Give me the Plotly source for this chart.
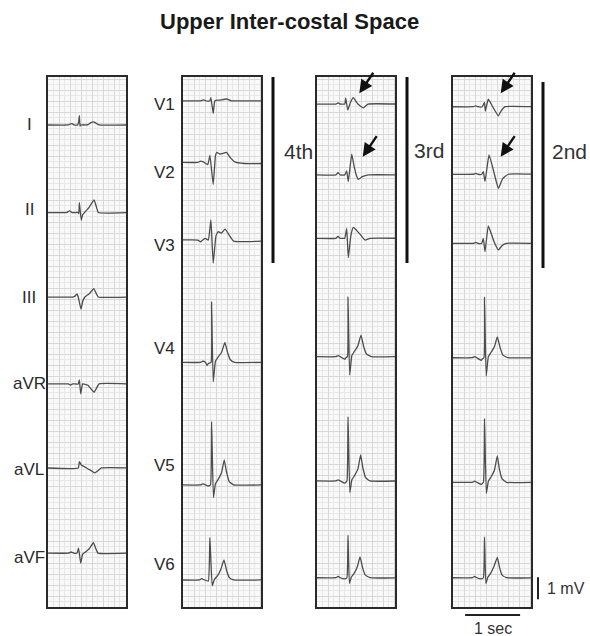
import plotly.graph_objects as go

# ---------------- data (time in ms relative to the QRS, amplitude in mV) ----------------
LIMB_LEADS = ["I", "II", "III", "aVR", "aVL", "aVF"]
LIMB_T = [
    [-600, -200, -160, -130, -100, -30, -10, 0, 12, 25, 60, 160, 210, 260, 310, 360, 900],
    [-600, -230, -180, -130, -25, -10, 0, 35, 60, 100, 180, 267, 305, 345, 900],
    [-600, -120, -80, -42, -20, 30, 60, 100, 180, 262, 300, 345, 900],
    [-600, -200, -160, -120, -20, 0, 25, 60, 150, 220, 267, 310, 360, 900],
    [-600, -20, 0, 40, 130, 200, 280, 340, 400, 900],
    [-600, -200, -150, -100, -40, -15, 25, 60, 110, 180, 255, 300, 340, 900],
]
LIMB_MV = [
    [0, 0, 0.05, 0.06, 0, 0, 0.2, 0.42, -0.05, 0, 0, 0.02, 0.11, 0.14, 0.07, 0, 0],
    [0, 0, 0.08, 0, 0, -0.05, 0.45, -0.35, -0.1, 0.02, 0.25, 0.57, 0.3, 0, 0],
    [0, 0, 0.04, 0.14, 0, -0.55, -0.2, 0, 0.15, 0.38, 0.2, 0, 0],
    [0, 0, -0.05, 0, 0, 0.18, -0.45, 0, -0.05, -0.25, -0.38, -0.2, 0, 0],
    [0, 0, 0.29, 0.12, 0, -0.1, -0.22, -0.12, 0, 0],
    [0, 0, 0.05, 0, 0, 0.23, -0.45, -0.05, 0.05, 0.2, 0.47, 0.2, 0, 0],
]

V_LEADS = ["V1", "V2", "V3", "V4", "V5", "V6"]

# 4th intercostal space
V4TH_T = [
    [-600, -200, -150, -100, -30, -13, 29, 60, 150, 273, 360, 900],
    [-600, -250, -200, -150, -70, -31, 29, 70, 91, 150, 220, 273, 330, 420, 600, 900],
    [-600, -250, -200, -120, -60, -13, 29, 80, 120, 180, 245, 300, 400, 900],
    [-600, -200, -160, -110, -80, -60, -10, 0, 29, 70, 120, 180, 242, 290, 340, 420, 900],
    [-600, -200, -160, -110, -60, -20, 0, 33, 70, 120, 180, 230, 270, 320, 400, 900],
    [-600, -220, -180, -130, -60, -31, 11, 50, 110, 170, 225, 270, 320, 400, 900],
]
V4TH_MV = [
    [0, 0, 0.04, 0, 0, 0.14, -0.57, 0, 0.03, 0.08, 0, 0],
    [0, 0, 0.06, 0.02, -0.1, 0.32, -1.0, 0.3, 0.45, 0.38, 0.42, 0.45, 0.25, 0.02, -0.05, -0.05],
    [0, 0, -0.08, 0.08, 0, 0.91, -1.05, 0.2, 0.38, 0.32, 0.5, 0.3, -0.05, -0.05],
    [0, 0, 0.05, 0, -0.14, -0.05, 0, 2.75, -0.88, 0.05, 0.25, 0.45, 0.91, 0.45, 0.12, 0, 0],
    [0, 0, 0.05, 0, -0.05, 0, 2.88, -0.58, 0.05, 0.25, 0.55, 1.14, 0.6, 0.15, 0, 0],
    [0, 0, 0.06, 0, -0.05, 1.92, -0.27, 0.02, 0.2, 0.5, 0.91, 0.45, 0.12, 0, 0],
]

# 3rd intercostal space
V3RD_T = [
    [-600, -220, -180, -140, -60, -42, -5, 40, 96, 180, 278, 364, 900],
    [-600, -220, -182, -140, -60, -24, 5, 67, 110, 150, 187, 260, 369, 900],
    [-600, -220, -182, -140, -60, -24, 5, 50, 96, 160, 230, 309, 400, 900],
    [-600, -220, -180, -140, -60, -40, -10, 0, 30, 70, 120, 180, 236, 285, 335, 420, 900],
    [-600, -220, -180, -140, -60, -20, 0, 33, 70, 120, 180, 230, 270, 320, 400, 900],
    [-600, -220, -180, -140, -60, -20, 0, 25, 60, 110, 170, 218, 265, 315, 400, 900],
]
V3RD_MV = [
    [0, 0, 0.05, 0, 0, 0.27, -0.27, 0.05, 0.29, 0.0, -0.17, 0, 0],
    [0, 0, 0.1, 0, 0, 0.18, -0.3, 0.94, 0.4, 0.0, -0.2, -0.08, 0, 0],
    [0, 0, 0.08, 0, 0, 0.45, -0.88, 0.1, 0.5, 0.35, 0.15, -0.08, 0, 0],
    [0, 0, 0.05, 0, -0.12, -0.05, 0, 2.72, -0.83, 0.05, 0.25, 0.5, 0.98, 0.45, 0.12, 0, 0],
    [0, 0, 0.05, 0, -0.1, 0, 2.92, -0.53, 0.05, 0.25, 0.55, 1.18, 0.6, 0.15, 0, 0],
    [0, 0, 0.06, 0, -0.05, 0, 1.94, -0.25, 0.02, 0.2, 0.5, 0.95, 0.45, 0.12, 0, 0],
]

# 2nd intercostal space
V2ND_T = [
    [-600, -200, -160, -120, -40, 0, 15, 69, 160, 251, 300, 373, 900],
    [-600, -200, -160, -120, -50, -22, 9, 82, 170, 251, 330, 433, 900],
    [-600, -200, -160, -120, -50, -22, 9, 69, 170, 251, 320, 400, 900],
    [-600, -220, -180, -140, -60, -40, -10, 0, 30, 70, 120, 180, 233, 285, 335, 420, 900],
    [-600, -220, -180, -140, -60, -20, 0, 33, 70, 120, 180, 233, 270, 320, 400, 900],
    [-600, -220, -180, -140, -60, -20, 0, 25, 60, 110, 170, 233, 275, 320, 400, 900],
]
V2ND_MV = [
    [0, 0, 0.04, 0, 0, 0.2, -0.2, 0.34, -0.05, -0.41, -0.2, 0, 0],
    [0, 0, 0.04, 0, 0, 0.12, -0.33, 0.88, 0.1, -0.64, -0.2, 0, 0],
    [0, 0, 0.04, 0, 0, 0.23, -0.38, 0.79, 0.1, -0.3, -0.1, 0, 0],
    [0, 0, 0.05, 0, -0.12, -0.05, 0, 2.75, -0.83, 0.05, 0.25, 0.5, 0.95, 0.45, 0.12, 0, 0],
    [0, 0, 0.05, 0, -0.1, 0, 2.9, -0.5, 0.05, 0.25, 0.55, 1.2, 0.6, 0.15, 0, 0],
    [0, 0, 0.06, 0, -0.05, 0, 1.86, -0.27, 0.02, 0.2, 0.5, 0.92, 0.45, 0.12, 0, 0],
]

SPACE_LABELS = ["4th", "3rd", "2nd"]
TITLE = "Upper Inter-costal Space"

# ---------------- layout constants ----------------
W, H = 590, 636
PX_PER_S, PX_PER_MV = 55.0, 22.0
PANEL_LEFT = [48, 183, 317, 453]
PANEL_W = 78
PANEL_TOP, PANEL_BOT = 77, 607
X_RANGE = PANEL_W / PX_PER_S
Y_RANGE = (PANEL_BOT - PANEL_TOP) / PX_PER_MV
R_TIME = [0.57, 0.52, 0.564, 0.573]           # QRS position in each strip (s)

LIMB_BASE = [21.91, 17.93, 14.09, 10.14, 6.32, 2.45]
V_BASES = [
    [23.01, 20.21, 16.68, 11.12, 5.55, 1.23],
    [22.86, 19.64, 16.76, 11.38, 5.73, 1.33],
    [22.74, 19.67, 16.53, 11.33, 5.67, 1.33],
]
LIMB_LABEL_Y = [21.91, 18.05, 14.09, 10.18, 6.23, 2.27]
V_LABEL_Y = [22.82, 19.77, 16.45, 11.73, 6.45, 1.91]

FONT = "Liberation Sans, Arial, sans-serif"
TRACE_COLOR = "#4d4d4d"

fig = go.Figure()

def add_lead(panel, times, mv, base):
    xs = [R_TIME[panel] + t / 1000.0 for t in times]
    ys = [base + v for v in mv]
    axis_suffix = "" if panel == 0 else str(panel + 1)
    fig.add_trace(go.Scatter(
        x=xs, y=ys, mode="lines",
        line=dict(color=TRACE_COLOR, width=1.3, shape="spline", smoothing=0.35),
        xaxis="x" + axis_suffix, yaxis="y" + axis_suffix,
        hoverinfo="skip", showlegend=False,
    ))

for i in range(6):
    add_lead(0, LIMB_T[i], LIMB_MV[i], LIMB_BASE[i])
for p, (TT, MM) in enumerate([(V4TH_T, V4TH_MV), (V3RD_T, V3RD_MV), (V2ND_T, V2ND_MV)]):
    for i in range(6):
        add_lead(p + 1, TT[i], MM[i], V_BASES[p][i])

layout = dict(
    width=W, height=H, margin=dict(l=0, r=0, t=0, b=0),
    paper_bgcolor="white", plot_bgcolor="#f9f9f9", showlegend=False,
)
ydom = [1 - PANEL_BOT / H, 1 - PANEL_TOP / H]
for p in range(4):
    s = "" if p == 0 else str(p + 1)
    layout["xaxis" + s] = dict(
        domain=[PANEL_LEFT[p] / W, (PANEL_LEFT[p] + PANEL_W) / W],
        range=[0, X_RANGE], anchor="y" + s,
        showline=True, mirror=True, linecolor="#2a2a2a", linewidth=2,
        showticklabels=False, ticks="", zeroline=False,
        showgrid=True, gridcolor="#d8d8d8", gridwidth=1, dtick=0.2, tick0=0,
        minor=dict(showgrid=True, dtick=0.1, gridcolor="#e8e8e8", gridwidth=1),
        fixedrange=True,
    )
    layout["yaxis" + s] = dict(
        domain=ydom, range=[0, Y_RANGE], anchor="x" + s,
        showline=True, mirror=True, linecolor="#2a2a2a", linewidth=2,
        showticklabels=False, ticks="", zeroline=False,
        showgrid=True, gridcolor="#d8d8d8", gridwidth=1, dtick=0.5, tick0=0,
        minor=dict(showgrid=True, dtick=0.25, gridcolor="#e8e8e8", gridwidth=1),
        fixedrange=True,
    )
fig.update_layout(**layout)

ann = []
ann.append(dict(text="<b>" + TITLE + "</b>", xref="paper", yref="paper",
                x=289.5 / W, y=1 - 22 / H, showarrow=False,
                xanchor="center", yanchor="middle",
                font=dict(family=FONT, size=22, color="#1a1a1a")))
for i, name in enumerate(LIMB_LEADS):
    ann.append(dict(text=name, xref="paper", yref="y", x=29 / W, y=LIMB_LABEL_Y[i],
                    showarrow=False, xanchor="center", yanchor="middle",
                    font=dict(family=FONT, size=17, color="#2a2a2a")))
for i, name in enumerate(V_LEADS):
    ann.append(dict(text=name, xref="paper", yref="y2", x=164 / W, y=V_LABEL_Y[i],
                    showarrow=False, xanchor="center", yanchor="middle",
                    font=dict(family=FONT, size=17, color="#2a2a2a")))

# vertical brackets with space labels
bar_x = [273, 407, 543]
bar_y = [(77, 263), (77, 263), (82, 268)]
lab_x = [298, 429, 569]
lab_y = [152, 150, 151]
shapes = []
for k in range(3):
    shapes.append(dict(type="line", xref="paper", yref="paper",
                       x0=bar_x[k] / W, x1=bar_x[k] / W,
                       y0=1 - bar_y[k][0] / H, y1=1 - bar_y[k][1] / H,
                       line=dict(color="#111111", width=3)))
    ann.append(dict(text=SPACE_LABELS[k], xref="paper", yref="paper",
                    x=lab_x[k] / W, y=1 - lab_y[k] / H, showarrow=False,
                    xanchor="center", yanchor="middle",
                    font=dict(family=FONT, size=21, color="#333333")))

# arrows pointing to the V1/V2 changes (heads in strip coordinates)
for axn, hx, hy in [("3", 0.769, 23.35), ("3", 0.831, 20.47),
                    ("4", 0.867, 23.35), ("4", 0.867, 20.47)]:
    ann.append(dict(text="", xref="x" + axn, yref="y" + axn, x=hx, y=hy,
                    ax=15, ay=-22, showarrow=True, arrowhead=2, arrowsize=1.1,
                    arrowwidth=2.4, arrowcolor="#111111"))

# calibration: 1 sec and 1 mV
shapes.append(dict(type="line", xref="x4", yref="paper", x0=0.22, x1=1.22,
                   y0=1 - 615 / H, y1=1 - 615 / H, line=dict(color="#222222", width=2)))
shapes.append(dict(type="line", xref="paper", yref="y4", x0=538 / W, x1=538 / W,
                   y0=0.35, y1=1.35, line=dict(color="#222222", width=2)))
ann.append(dict(text="1 sec", xref="x4", yref="paper", x=0.72, y=1 - 628 / H,
                showarrow=False, xanchor="center", yanchor="middle",
                font=dict(family=FONT, size=16, color="#333333")))
ann.append(dict(text="1 mV", xref="paper", yref="y4", x=545 / W, y=0.85,
                xanchor="left", yanchor="middle", showarrow=False,
                font=dict(family=FONT, size=16, color="#333333")))

fig.update_layout(annotations=ann, shapes=shapes)
fig.write_html("out.html", config={"displayModeBar": False},
               post_script="document.body.style.margin='0px';document.body.style.overflow='hidden';")
